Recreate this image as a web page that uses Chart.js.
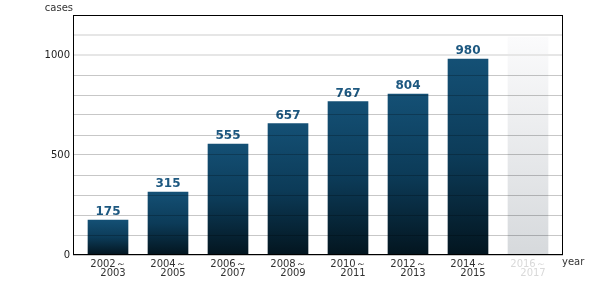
<!DOCTYPE html>
<html>
<head>
<meta charset="utf-8">
<script src="https://cdn.jsdelivr.net/npm/chart.js@4.4.1/dist/chart.umd.min.js"></script>
<style>
  html, body { margin: 0; padding: 0; background: #fff; }
  canvas { display: block; }
</style>
</head>
<body>
<canvas id="casesChart" width="600" height="282"></canvas>
<script>
// two-year periods, the last one is still open (drawn as a faded placeholder)
const periodLabels = [
  ['2002～', '　2003'],
  ['2004～', '　2005'],
  ['2006～', '　2007'],
  ['2008～', '　2009'],
  ['2010～', '　2011'],
  ['2012～', '　2013'],
  ['2014～', '　2015'],
  ['2016～', '　2017']
];
const cases = [175, 315, 555, 657, 767, 804, 980];
const placeholder = 1090;
const yLabels = [0, 500, 1000];

const font = '"DejaVu Sans", Verdana, sans-serif';
const points = cases.concat([placeholder]).map((v, i) => ({ x: i, y: v }));

function barFill(ctx) {
  const chart = ctx.chart;
  if (!chart.chartArea || !chart.scales.y) return '#0f405e';
  const y = chart.scales.y;
  const v = ctx.raw ? ctx.raw.y : 0;
  const top = y.getPixelForValue(v);
  const bottom = y.getPixelForValue(0);
  const g = chart.ctx.createLinearGradient(0, top, 0, bottom);
  if (ctx.dataIndex >= cases.length) {
    g.addColorStop(0, '#fbfbfc');
    g.addColorStop(1, '#d6d9dc');
  } else {
    g.addColorStop(0, '#145075');
    g.addColorStop(0.5, '#0c3b58');
    g.addColorStop(1, '#03151f');
  }
  return g;
}

const valueLabels = {
  id: 'valueLabels',
  afterDatasetsDraw(chart) {
    const ctx = chart.ctx;
    const meta = chart.getDatasetMeta(0);
    ctx.save();
    ctx.font = 'bold 12px ' + font;
    ctx.fillStyle = '#1d5880';
    ctx.textAlign = 'center';
    ctx.textBaseline = 'alphabetic';
    meta.data.forEach((bar, i) => {
      if (i >= cases.length) return;
      ctx.fillText(String(cases[i]), bar.x, bar.y - 5);
    });
    ctx.restore();
  }
};

const frame = {
  id: 'frame',
  afterDraw(chart) {
    const { ctx, chartArea: a } = chart;
    ctx.save();
    ctx.strokeStyle = '#000';
    ctx.lineWidth = 1;
    ctx.strokeRect(a.left + 0.5, a.top + 0.5, a.right - a.left - 1, a.bottom - a.top - 1);
    ctx.font = '10px ' + font;
    ctx.fillStyle = '#333';
    ctx.textBaseline = 'alphabetic';
    ctx.textAlign = 'right';
    ctx.fillText('cases', a.left, a.top - 4);
    ctx.textAlign = 'left';
    ctx.fillText('year', a.right - 1, a.bottom + 10);
    ctx.restore();
  }
};

new Chart(document.getElementById('casesChart'), {
  type: 'bar',
  data: {
    datasets: [{
      data: points,
      backgroundColor: barFill,
      borderWidth: 0,
      barThickness: 40
    }]
  },
  options: {
    responsive: false,
    animation: false,
    devicePixelRatio: 1,
    layout: { padding: { top: 15, right: 37, left: 0, bottom: 0 } },
    plugins: {
      legend: { display: false },
      tooltip: { enabled: false }
    },
    scales: {
      x: {
        type: 'linear',
        offset: false,
        min: -7 / 12,
        max: 7 + 7 / 12,
        grid: { display: false, offset: false },
        border: { display: false },
        afterFit(scale) { scale.height = 27; },
        ticks: {
          stepSize: 1,
          includeBounds: false,
          autoSkip: false,
          maxRotation: 0,
          padding: -3,
          font: { family: font, size: 10, lineHeight: 0.9 },
          color: (ctx) => ctx.tick && ctx.tick.value >= cases.length ? '#d9d9d9' : '#333',
          callback: (value) => Number.isInteger(value) && periodLabels[value] ? periodLabels[value] : ''
        }
      },
      y: {
        min: 0,
        max: 1200,
        border: { display: false },
        afterFit(scale) { scale.width = 73; },
        grid: {
          z: 1,
          drawTicks: false,
          color: (ctx) => {
            const v = ctx.tick ? ctx.tick.value : 0;
            return v === 1000 || v === 1100 ? '#e6e6e6' : 'rgba(0,0,0,0.22)';
          },
          lineWidth: (ctx) => {
            const v = ctx.tick ? ctx.tick.value : 0;
            return v === 1000 || v === 1100 ? 2 : 1;
          }
        },
        ticks: {
          stepSize: 100,
          padding: 3,
          font: { family: font, size: 10 },
          color: '#222',
          callback: (value) => yLabels.includes(value) ? value : ''
        }
      }
    }
  },
  plugins: [valueLabels, frame]
});
</script>
</body>
</html>
